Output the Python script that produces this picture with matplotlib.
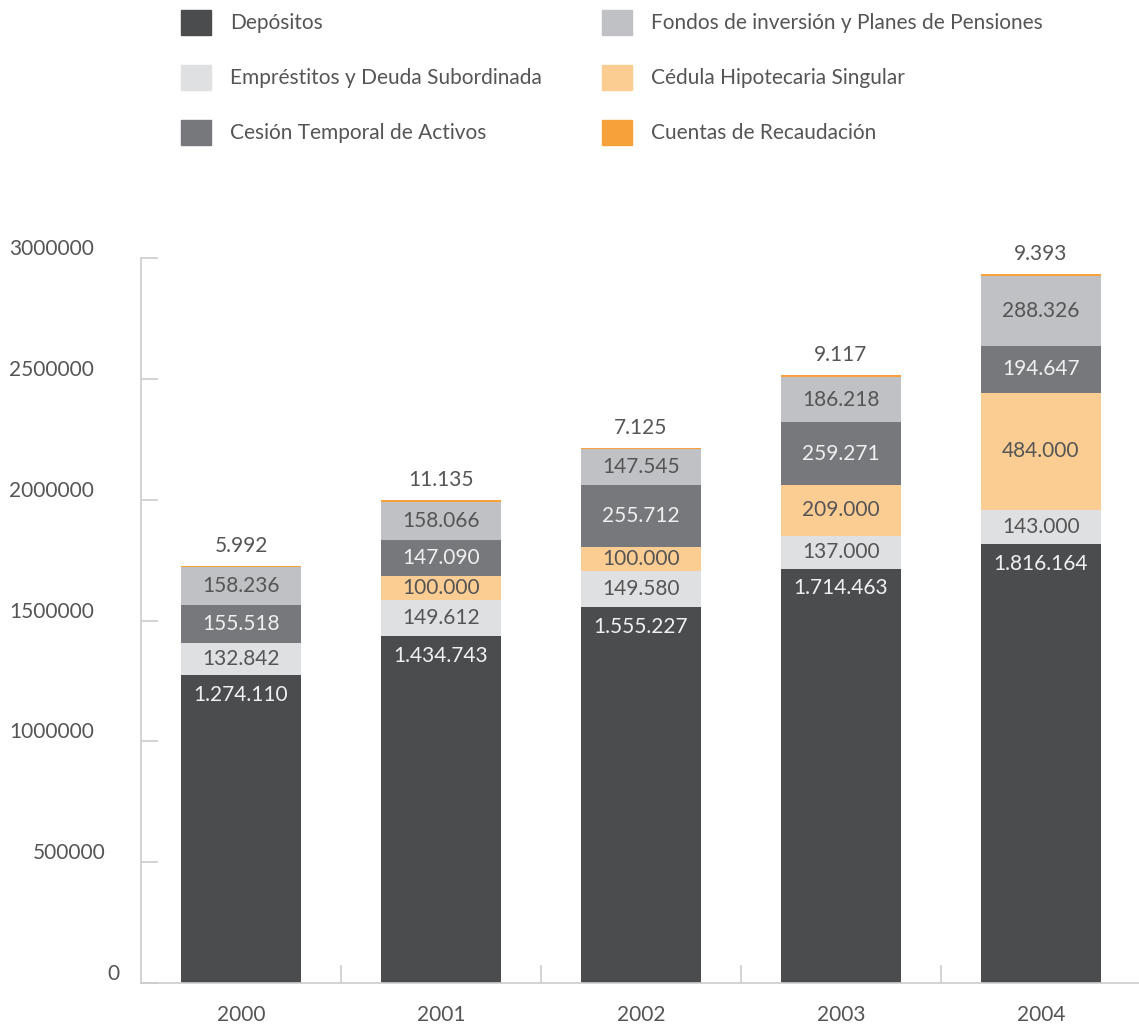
import matplotlib
matplotlib.use('Agg')
import matplotlib.pyplot as plt
from matplotlib.patches import Patch
from matplotlib.transforms import ScaledTranslation
import numpy as np

years = ['2000', '2001', '2002', '2003', '2004']

depositos = [1274110, 1434743, 1555227, 1714463, 1816164]
emprestitos = [132842, 149612, 149580, 137000, 143000]
cedula = [0, 100000, 100000, 209000, 484000]
cesion = [155518, 147090, 255712, 259271, 194647]
fondos = [158236, 158066, 147545, 186218, 288326]
cuentas = [5992, 11135, 7125, 9117, 9393]

series_names = ['Depósitos', 'Empréstitos y Deuda Subordinada', 'Cédula Hipotecaria Singular',
                'Cesión Temporal de Activos', 'Fondos de inversión y Planes de Pensiones',
                'Cuentas de Recaudación']
series_vals = [depositos, emprestitos, cedula, cesion, fondos, cuentas]
colors = ['#4b4c4e', '#dfe0e2', '#fccd93', '#77787c', '#c0c1c5', '#f7a13a']
label_colors = ['#f0f0f0', '#555555', '#555555', '#f0f0f0', '#555555', '#555555']

plt.rcParams['font.family'] = ['Lato', 'DejaVu Sans']
txt = '#555555'

def fmt(v):
    return '{:,}'.format(v).replace(',', '.')

fig = plt.figure(figsize=(11.39, 10.29), dpi=100)
ax = fig.add_axes([141 / 1139, 46 / 1029, 1000 / 1139, 725 / 1029])

x = np.arange(len(years))
bottom = np.zeros(len(years))
for name, vals, c, lc in zip(series_names, series_vals, colors, label_colors):
    vals = np.array(vals, dtype=float)
    ax.bar(x, vals, 0.6, bottom=bottom, color=c, linewidth=0)
    for xi, b, v in zip(x, bottom, vals):
        if v == 0:
            continue
        if name == 'Depósitos':
            ax.annotate(fmt(int(v)), (xi, b + v), xytext=(0, -7), textcoords='offset points',
                        ha='center', va='top', color=lc, fontsize=15)
        elif name == 'Cuentas de Recaudación':
            ax.annotate(fmt(int(v)), (xi, b + v), xytext=(0, 7), textcoords='offset points',
                        ha='center', va='bottom', color=lc, fontsize=15)
        else:
            ax.text(xi, b + v / 2, fmt(int(v)), ha='center', va='center', color=lc,
                    fontsize=15)
    bottom += vals

ax.set_xlim(-0.5, 4.5)
ax.set_ylim(0, 3000000)
for s in ['top', 'right']:
    ax.spines[s].set_visible(False)
for s in ['left', 'bottom']:
    ax.spines[s].set_color('#cccccc')
    ax.spines[s].set_linewidth(1.2)

ax.set_yticks(np.arange(0, 3000001, 500000))
ax.set_yticklabels([str(v) for v in range(0, 3000001, 500000)])
ax.tick_params(axis='y', direction='in', length=12, color='#cccccc', width=1.2,
               pad=34, labelsize=15, labelcolor=txt)
ax.set_xticks(x)
ax.set_xticklabels(years)
ax.set_xticks(x[:-1] + 0.5, minor=True)
ax.tick_params(axis='x', which='major', length=0, pad=16, labelsize=15, labelcolor=txt)
ax.tick_params(axis='x', which='minor', direction='in', length=13, color='#cccccc', width=1.2)

# y labels sit above their tick lines
extra_x = {'500000': 12, '0': 26}
for lab in ax.get_yticklabels():
    dx = extra_x.get(lab.get_text(), 0)
    lab.set_transform(lab.get_transform() + ScaledTranslation(dx / 100, 11 / 100, fig.dpi_scale_trans))

handles = [Patch(color=c) for c in colors]
col1 = [0, 1, 3]
col2 = [4, 2, 5]
for idx, xa in [(col1, 181 / 1139), (col2, 602 / 1139)]:
    fig.legend([handles[i] for i in idx], [series_names[i] for i in idx],
               loc='upper left', bbox_to_anchor=(xa, 1 - 10 / 1029), frameon=False,
               borderpad=0, borderaxespad=0, handlelength=1.45, handleheight=1.45,
               handletextpad=0.9, labelspacing=1.45, fontsize=15, labelcolor=txt)

fig.savefig('out.png', dpi=100)
